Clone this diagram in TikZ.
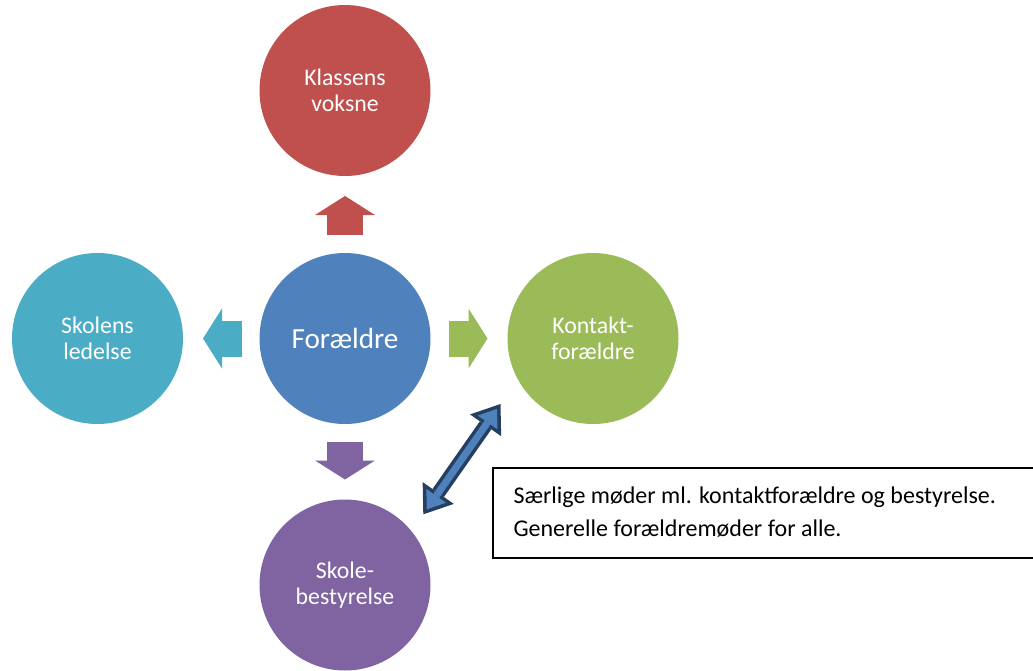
\documentclass[tikz,border=0pt]{standalone}
\usepackage{fontspec}
\setmainfont{Carlito}
\usepackage{xcolor}
\usetikzlibrary{positioning, arrows.meta}

\definecolor{kred}{HTML}{C0504D}
\definecolor{kblue}{HTML}{4F81BD}
\definecolor{kteal}{HTML}{4BACC6}
\definecolor{kgreen}{HTML}{9BBB59}
\definecolor{kpurple}{HTML}{8064A2}
\definecolor{knavy}{HTML}{243F60}

\begin{document}
\begin{tikzpicture}[
    x=1pt, y=-1pt,
    group/.style={circle, minimum size=171pt, inner sep=0pt, outer sep=0pt, text=white, align=center, font=\fontsize{23.8}{26.5}\selectfont},
    blockarrow/.style={line width=36pt, shorten <=18pt, shorten >=20pt, -{Triangle[width=60pt, length=19pt, line width=0pt]}},
    dblouter/.style={knavy, line width=14pt, {Triangle[width=38pt, length=26pt, line width=0pt]}-{Triangle[width=38pt, length=26pt, line width=0pt]}},
    dblinner/.style={kblue, line width=7pt, shorten <=6pt, shorten >=6pt, {Triangle[width=24pt, length=16.5pt, line width=0pt]}-{Triangle[width=24pt, length=16.5pt, line width=0pt]}},
    infobox/.style={draw, line width=2pt, minimum width=560pt, minimum height=90pt, inner sep=0pt, outer sep=0pt},
    infotext/.style={align=left, inner sep=0pt, font=\fontsize{24}{33.7}\selectfont}
]

\useasboundingbox (0,0) rectangle (1033,670);

% Circles
\node[group, fill=kblue, font=\fontsize{29.2}{32}\selectfont] (foraeldre) at (345,338.5) {Forældre};
\node[group, fill=kred, above=77pt of foraeldre] (klassens) {Klassens\\voksne};
\node[group, fill=kteal, left=76.5pt of foraeldre] (ledelse) {Skolens\\ledelse};
\node[group, fill=kgreen, right=77pt of foraeldre] (kontakt) {Kontakt-\\forældre};
\node[group, fill=kpurple, below=75.5pt of foraeldre] (bestyrelse) {Skole-\\bestyrelse};

% Block arrows out from the middle
\draw[blockarrow, kred] (foraeldre) -- (klassens);
\draw[blockarrow, kteal] (foraeldre) -- (ledelse);
\draw[blockarrow, kgreen] (foraeldre) -- (kontakt);
\draw[blockarrow, kpurple] (foraeldre) -- (bestyrelse);

% Double arrow between bestyrelse and kontaktforaeldre
\coordinate (dblA) at (423.3,514.3);
\coordinate (dblB) at (500.5,404);
\draw[dblouter] (dblA) -- (dblB);
\draw[dblinner] (dblA) -- (dblB);

% Text box
\node[infobox, anchor=north west] (info) at (493.3,468.3) {};
\node[infotext, below right=18pt and 20pt of info.north west] (infotxt) {Særlige møder ml. kontaktforældre og bestyrelse.\\Generelle forældremøder for alle.};

\end{tikzpicture}
\end{document}
